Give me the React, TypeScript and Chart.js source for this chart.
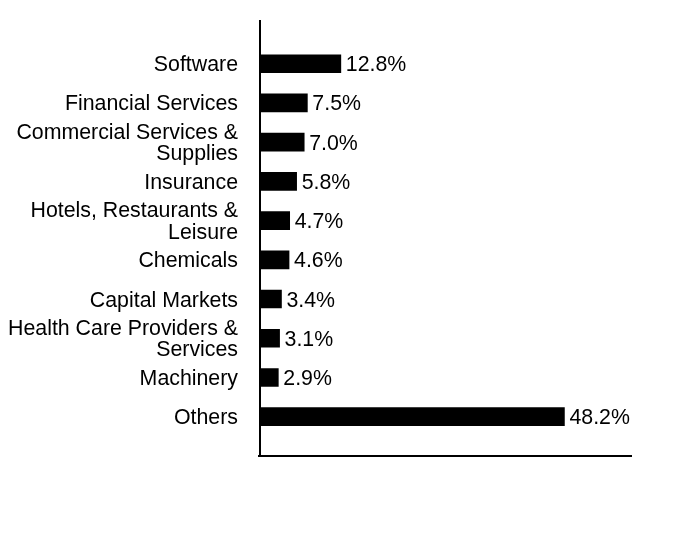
import React, { useEffect, useRef } from "react";
import { Chart, registerables } from "chart.js";

Chart.register(...registerables);

const categories: (string | string[])[] = [
  "Software",
  "Financial Services",
  ["Commercial Services &", "Supplies"],
  "Insurance",
  ["Hotels, Restaurants &", "Leisure"],
  "Chemicals",
  "Capital Markets",
  ["Health Care Providers &", "Services"],
  "Machinery",
  "Others",
];
const values = [12.8, 7.5, 7.0, 5.8, 4.7, 4.6, 3.4, 3.1, 2.9, 48.2];
const valueLabels = ["12.8%", "7.5%", "7.0%", "5.8%", "4.7%", "4.6%", "3.4%", "3.1%", "2.9%", "48.2%"];

const FONT = "Liberation Sans, Arial, sans-serif";
const FONT_SIZE = 21.33;
const LINE_H = 21.2;
const BASE_SHIFT = 7.5;

const labelsPlugin = {
  id: "labelsDraw",
  afterDatasetsDraw(chart: any) {
    const ctx = chart.ctx;
    const meta = chart.getDatasetMeta(0);
    const yScale = chart.scales.y;
    const area = chart.chartArea;
    ctx.save();
    ctx.font = `${FONT_SIZE}px ${FONT}`;
    ctx.fillStyle = "#000";
    ctx.textBaseline = "alphabetic";
    // value labels
    ctx.textAlign = "left";
    meta.data.forEach((bar: any, i: number) => {
      ctx.fillText(valueLabels[i], bar.x + 5, bar.y + BASE_SHIFT);
    });
    // category labels
    ctx.textAlign = "right";
    categories.forEach((lab, i) => {
      const lines = Array.isArray(lab) ? lab : [lab];
      const cy = yScale.getPixelForValue(i);
      lines.forEach((ln, j) => {
        const off = (j - (lines.length - 1) / 2) * LINE_H;
        ctx.fillText(ln, area.left - 22, cy + BASE_SHIFT + off);
      });
    });
    ctx.restore();
  },
};

const axisLinesPlugin = {
  id: "axisLines",
  afterDraw(chart: any) {
    const { ctx, chartArea } = chart;
    ctx.save();
    ctx.strokeStyle = "#000";
    ctx.lineWidth = 2;
    ctx.beginPath();
    ctx.moveTo(chartArea.left, chartArea.top - 24.1);
    ctx.lineTo(chartArea.left, chartArea.bottom + 19.7);
    ctx.moveTo(chartArea.left - 2, chartArea.bottom + 19.7);
    ctx.lineTo(chartArea.right, chartArea.bottom + 19.7);
    ctx.stroke();
    ctx.restore();
  },
};

export default function App() {
  const ref = useRef<HTMLCanvasElement>(null);
  useEffect(() => {
    if (!ref.current) return;
    const chart = new Chart(ref.current, {
      type: "bar",
      data: {
        labels: categories,
        datasets: [
          {
            data: values,
            backgroundColor: "#000",
            barThickness: 18,
          },
        ],
      },
      options: {
        indexAxis: "y",
        animation: false,
        responsive: false,
        maintainAspectRatio: false,
        layout: { padding: { top: 44.1, bottom: 103.7, left: 0, right: 52 } },
        plugins: {
          legend: { display: false },
          tooltip: { enabled: false },
        },
        scales: {
          x: {
            display: false,
            min: 0,
            max: 58.9,
          },
          y: {
            grid: { display: false, drawTicks: false },
            border: { display: false },
            ticks: { display: false },
            afterFit(scale: any) {
              scale.width = 260;
            },
          },
        },
      },
      plugins: [labelsPlugin, axisLinesPlugin],
    });
    return () => chart.destroy();
  }, []);
  return (
    <div style={{ position: "fixed", left: 0, top: 0, width: 684, height: 540, background: "#fff" }}>
      <canvas ref={ref} width={684} height={540} style={{ width: 684, height: 540 }} />
    </div>
  );
}
